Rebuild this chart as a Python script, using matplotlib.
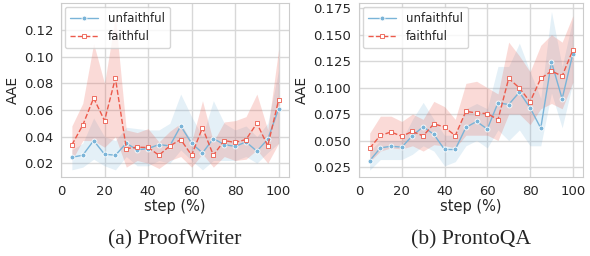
import matplotlib.pyplot as plt
import seaborn as sns
import numpy as np

sns.set_style("whitegrid")
plt.rcParams['font.family'] = ['DejaVu Sans']

steps = [5, 10, 15, 20, 25, 30, 35, 40, 45, 50, 55, 60, 65, 70, 75, 80, 85, 90, 95, 100]

# ProofWriter
pw_unf = [0.0244, 0.026, 0.037, 0.0267, 0.026, 0.035, 0.030, 0.031, 0.034, 0.033,
          0.048, 0.035, 0.0277, 0.0385, 0.034, 0.0326, 0.036, 0.029, 0.038, 0.061]
pw_unf_lo = [0.015, 0.017, 0.023, 0.018, 0.015, 0.025, 0.018, 0.018, 0.022, 0.020,
             0.030, 0.022, 0.015, 0.022, 0.022, 0.022, 0.025, 0.020, 0.028, 0.035]
pw_unf_hi = [0.030, 0.035, 0.054, 0.040, 0.037, 0.047, 0.046, 0.045, 0.045, 0.050,
             0.072, 0.055, 0.040, 0.067, 0.050, 0.045, 0.048, 0.040, 0.050, 0.090]
pw_fai = [0.0338, 0.0486, 0.069, 0.052, 0.084, 0.031, 0.032, 0.0318, 0.026, 0.033,
          0.0378, 0.026, 0.0467, 0.026, 0.037, 0.0356, 0.0378, 0.050, 0.033, 0.0677]
pw_fai_lo = [0.022, 0.037, 0.037, 0.032, 0.040, 0.017, 0.022, 0.020, 0.016, 0.022,
             0.025, 0.017, 0.027, 0.017, 0.025, 0.022, 0.023, 0.030, 0.020, 0.035]
pw_fai_hi = [0.048, 0.065, 0.110, 0.080, 0.130, 0.045, 0.043, 0.046, 0.036, 0.044,
             0.050, 0.036, 0.067, 0.036, 0.051, 0.052, 0.055, 0.072, 0.045, 0.106]

# ProntoQA
pq_unf = [0.0309, 0.043, 0.0446, 0.0437, 0.0546, 0.063, 0.0558, 0.0415, 0.0415, 0.0624,
          0.068, 0.0608, 0.0857, 0.084, 0.0957, 0.081, 0.0617, 0.1243, 0.0894, 0.132]
pq_unf_lo = [0.022, 0.032, 0.032, 0.032, 0.037, 0.045, 0.040, 0.026, 0.030, 0.045,
             0.050, 0.043, 0.060, 0.050, 0.060, 0.045, 0.045, 0.095, 0.062, 0.105]
pq_unf_hi = [0.040, 0.050, 0.050, 0.050, 0.070, 0.086, 0.070, 0.055, 0.055, 0.080,
             0.085, 0.080, 0.120, 0.120, 0.142, 0.115, 0.090, 0.172, 0.120, 0.165]
pq_fai = [0.0427, 0.0549, 0.058, 0.054, 0.0586, 0.0543, 0.0658, 0.0627, 0.0546, 0.0776,
          0.076, 0.0754, 0.0698, 0.1087, 0.0997, 0.0866, 0.1087, 0.1156, 0.111, 0.1355]
pq_fai_lo = [0.030, 0.040, 0.043, 0.042, 0.045, 0.040, 0.046, 0.045, 0.043, 0.055,
             0.055, 0.055, 0.050, 0.075, 0.075, 0.065, 0.080, 0.085, 0.080, 0.105]
pq_fai_hi = [0.057, 0.073, 0.073, 0.068, 0.075, 0.070, 0.087, 0.082, 0.070, 0.104,
             0.106, 0.100, 0.094, 0.143, 0.130, 0.115, 0.140, 0.150, 0.143, 0.168]

blue = "#7ab4d8"
red = "#ec5a4b"

fig = plt.figure(figsize=(5.9, 2.56), dpi=100)
ax1 = fig.add_axes([61 / 590, 79 / 256, 228 / 590, 174 / 256])
ax2 = fig.add_axes([359 / 590, 79 / 256, 224 / 590, 174 / 256])

panels = [
    (ax1, pw_unf, pw_unf_lo, pw_unf_hi, pw_fai, pw_fai_lo, pw_fai_hi, "(a) ProofWriter"),
    (ax2, pq_unf, pq_unf_lo, pq_unf_hi, pq_fai, pq_fai_lo, pq_fai_hi, "(b) ProntoQA"),
]

for ax, u, ulo, uhi, f, flo, fhi, cap in panels:
    ax.fill_between(steps, ulo, uhi, color=blue, alpha=0.2, lw=0)
    ax.fill_between(steps, flo, fhi, color=red, alpha=0.22, lw=0)
    ax.plot(steps, u, color=blue, lw=1, marker="o", ms=3.5, mec="white", mew=0.6,
            label="unfaithful")
    ax.plot(steps, f, color=red, lw=1, ls="--", marker="s", ms=3.5, mfc="white",
            mec=red, mew=0.6, label="faithful")
    ax.set_xlim(0.25, 104.75)
    ax.set_xticks([0, 20, 40, 60, 80, 100])
    ax.set_xlabel("step (%)", fontsize=10.5, labelpad=1)
    ax.set_ylabel("AAE", fontsize=10, labelpad=3)
    ax.tick_params(labelsize=9.5, pad=2)
    ax.grid(color="#d8d8d8", lw=1)
    for s in ax.spines.values():
        s.set_color("#cccccc")
    ax.legend(loc="upper left", fontsize=8.5, handlelength=2.4, borderpad=0.45,
              labelspacing=0.45, borderaxespad=0.3, framealpha=0.8)
    ax.text(0.5, -0.36, cap, transform=ax.transAxes, ha="center", va="center",
            fontsize=15.6, family="Liberation Serif")

ax1.set_yticks([0.02, 0.04, 0.06, 0.08, 0.10, 0.12])
ax1.set_ylim(0.0096, 0.1405)
ax2.set_yticks([0.025, 0.05, 0.075, 0.1, 0.125, 0.15, 0.175])
ax2.set_yticklabels(["0.025", "0.050", "0.075", "0.100", "0.125", "0.150", "0.175"])
ax2.set_ylim(0.0155, 0.18)

fig.savefig("out.png", dpi=100)
